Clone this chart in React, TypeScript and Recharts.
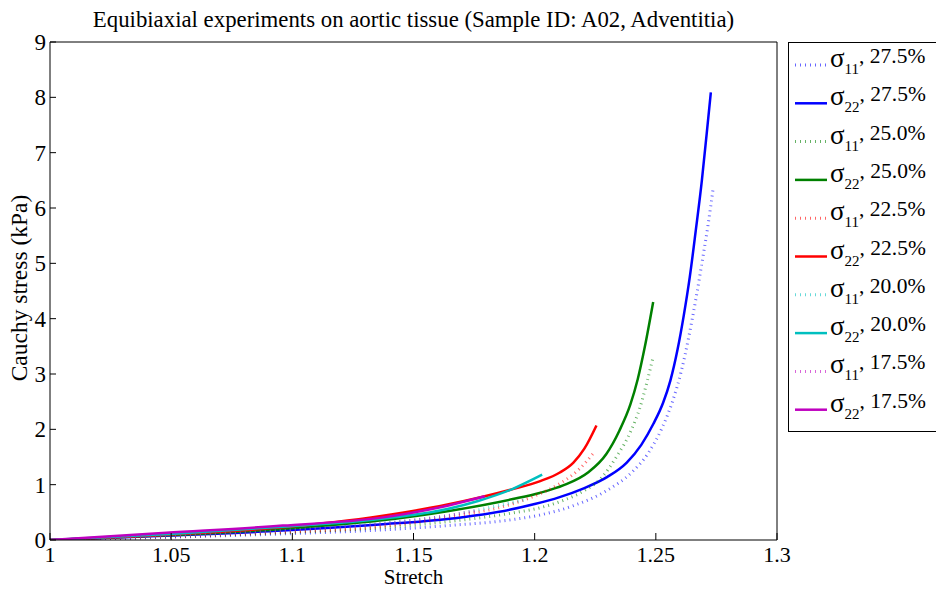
import React from 'react';
import { LineChart, Line, XAxis, YAxis, Legend, Label } from 'recharts';

const FONT = '"Liberation Serif", "Times New Roman", serif';

// axis ticks
const stretchTicks = [1, 1.05, 1.1, 1.15, 1.2, 1.25, 1.3];
const stressTicks = [0, 1, 2, 3, 4, 5, 6, 7, 8, 9];

// [stretch, Cauchy stress (kPa)]
const s11_275 = [[1, 0], [1.05, 0.05], [1.096, 0.11], [1.136, 0.18], [1.164, 0.26], [1.191, 0.37], [1.202, 0.45], [1.216, 0.62], [1.23, 0.9], [1.24, 1.22], [1.247, 1.58], [1.2525, 2.02], [1.257, 2.52], [1.2605, 3.05], [1.2635, 3.65], [1.2665, 4.35], [1.269, 5.0], [1.2715, 5.68], [1.2737, 6.37]];
const s22_275 = [[1, 0], [1.05, 0.08], [1.096, 0.17], [1.136, 0.28], [1.164, 0.38], [1.19, 0.55], [1.2, 0.65], [1.21, 0.77], [1.22, 0.93], [1.23, 1.14], [1.238, 1.4], [1.244, 1.72], [1.249, 2.1], [1.253, 2.48], [1.256, 2.88], [1.259, 3.45], [1.2615, 4.05], [1.264, 4.75], [1.2665, 5.6], [1.269, 6.5], [1.271, 7.35], [1.2727, 8.09]];
const s11_250 = [[1, 0], [1.05, 0.06], [1.096, 0.13], [1.136, 0.22], [1.164, 0.33], [1.191, 0.49], [1.202, 0.58], [1.212, 0.72], [1.22, 0.88], [1.2275, 1.12], [1.234, 1.52], [1.2395, 1.95], [1.2435, 2.4], [1.2465, 2.88], [1.2489, 3.31]];
const s22_250 = [[1, 0], [1.05, 0.09], [1.096, 0.2], [1.136, 0.35], [1.164, 0.52], [1.191, 0.74], [1.202, 0.85], [1.212, 0.99], [1.222, 1.22], [1.2295, 1.55], [1.235, 1.98], [1.2395, 2.45], [1.2425, 2.9], [1.2455, 3.5], [1.2489, 4.3]];
const s11_225 = [[1, 0], [1.05, 0.06], [1.096, 0.14], [1.136, 0.24], [1.164, 0.41], [1.191, 0.655], [1.2021, 0.835], [1.2104, 1.02], [1.2186, 1.29], [1.2241, 1.56]];
const s22_225 = [[1, 0], [1.05, 0.1], [1.096, 0.23], [1.136, 0.43], [1.164, 0.64], [1.191, 0.92], [1.202, 1.06], [1.2104, 1.22], [1.216, 1.4], [1.2205, 1.65], [1.2255, 2.07]];
const s11_200 = [[1, 0], [1.05, 0.07], [1.096, 0.17], [1.136, 0.3], [1.164, 0.44], [1.185, 0.62], [1.197, 0.74]];
const s22_200 = [[1, 0], [1.05, 0.11], [1.096, 0.24], [1.136, 0.38], [1.164, 0.56], [1.177, 0.71], [1.191, 0.925], [1.2031, 1.18]];
const s11_175 = [[1, 0], [1.05, 0.07], [1.096, 0.17], [1.136, 0.29], [1.164, 0.44], [1.176, 0.53]];
const s22_175 = [[1, 0], [1.048, 0.13], [1.096, 0.26], [1.136, 0.4], [1.164, 0.62], [1.1794, 0.79]];

const series = [
  { id: 's11_275', sub: '11', pct: '27.5%', color: '#0000ff', dotted: true, pts: s11_275 },
  { id: 's22_275', sub: '22', pct: '27.5%', color: '#0000ff', dotted: false, pts: s22_275 },
  { id: 's11_250', sub: '11', pct: '25.0%', color: '#008000', dotted: true, pts: s11_250 },
  { id: 's22_250', sub: '22', pct: '25.0%', color: '#008000', dotted: false, pts: s22_250 },
  { id: 's11_225', sub: '11', pct: '22.5%', color: '#ff0000', dotted: true, pts: s11_225 },
  { id: 's22_225', sub: '22', pct: '22.5%', color: '#ff0000', dotted: false, pts: s22_225 },
  { id: 's11_200', sub: '11', pct: '20.0%', color: '#00bfbf', dotted: true, pts: s11_200 },
  { id: 's22_200', sub: '22', pct: '20.0%', color: '#00bfbf', dotted: false, pts: s22_200 },
  { id: 's11_175', sub: '11', pct: '17.5%', color: '#bf00bf', dotted: true, pts: s11_175 },
  { id: 's22_175', sub: '22', pct: '17.5%', color: '#bf00bf', dotted: false, pts: s22_175 },
];

const BottomTick = (props: any) => {
  const { x, y, payload } = props;
  return (
    <g>
      <line x1={x} x2={x} y1={y - 6} y2={y - 13} stroke="#000" />
      <text x={x} y={y} dy="0.71em" textAnchor="middle" fontSize={22} fontFamily={FONT} fill="#000">{payload.value}</text>
    </g>
  );
};

const LeftTick = (props: any) => {
  const { x, y, payload } = props;
  return (
    <g>
      <line x1={x + 4} x2={x + 10} y1={y} y2={y} stroke="#000" />
      <text x={x} y={y} dy="0.35em" textAnchor="end" fontSize={23} fontFamily={FONT} fill="#000">{payload.value}</text>
    </g>
  );
};

const YTitle = (props: any) => {
  const { viewBox } = props;
  const cx = viewBox.x - 22;
  const cy = viewBox.y + viewBox.height / 2 - 3;
  return (
    <text x={cx} y={cy} transform={`rotate(-90, ${cx}, ${cy})`} textAnchor="middle" fontSize={23.5} fontFamily={FONT} fill="#000">
      Cauchy stress (kPa)
    </text>
  );
};

const LegendBox = () => (
  <div style={{ border: '1px solid #000', background: '#fff', width: 160, height: 388 }}>
    <svg width={160} height={388} style={{ overflow: 'visible' }}>
      {series.map((s, i) => {
        const cy = 22 + i * 38.3;
        return (
          <g key={s.id}>
            <line x1={6} x2={38} y1={cy} y2={cy} stroke={s.color}
              strokeWidth={s.dotted ? 3 : 2.5} strokeDasharray={s.dotted ? '1 4' : undefined}
              strokeOpacity={s.dotted ? 0.6 : 1} />
            <text x={41} y={cy - 2} fill="#000" fontFamily={FONT}>
              <tspan fontSize={27} dy={4}>σ</tspan>
              <tspan fontSize={15} dy={7}>{s.sub}</tspan>
              <tspan fontSize={21.5} dy={-11}>, {s.pct}</tspan>
            </text>
          </g>
        );
      })}
    </svg>
  </div>
);

export default function App() {
  return (
    <div style={{ position: 'absolute', left: 0, top: 0, width: 936, height: 589, overflow: 'hidden', background: '#fff', fontFamily: FONT }}>
      <LineChart width={936} height={589} margin={{ top: 42, right: 159, bottom: 48, left: 49 }}>
        <XAxis dataKey="x" type="number" domain={[1, 1.3]} ticks={stretchTicks} height={1}
          axisLine={{ stroke: '#000' }} tickLine={false} tickSize={0} tickMargin={6} tick={BottomTick}
          allowDataOverflow>
          <Label value="Stretch" position="bottom" offset={28} fontSize={21} fontFamily={FONT} fill="#000" />
        </XAxis>
        <XAxis xAxisId="top" orientation="top" type="number" domain={[1, 1.3]} ticks={stretchTicks} height={1}
          mirror tick={false} tickSize={7} axisLine={{ stroke: '#000' }} tickLine={{ stroke: '#000' }} allowDataOverflow>
          <Label value="Equibiaxial experiments on aortic tissue (Sample ID: A02, Adventitia)" position="top" offset={15} fontSize={22.8} fontFamily={FONT} fill="#000" />
        </XAxis>
        <YAxis type="number" domain={[0, 9]} ticks={stressTicks} width={1}
          axisLine={{ stroke: '#000' }} tickLine={false} tickSize={0} tickMargin={4} tick={LeftTick}
          allowDataOverflow label={<YTitle />} />
        <YAxis yAxisId="right" orientation="right" type="number" domain={[0, 9]} ticks={stressTicks} width={1}
          mirror tick={false} tickSize={6} axisLine={{ stroke: '#000' }} tickLine={{ stroke: '#000' }} allowDataOverflow />
        <Legend layout="vertical" align="center" verticalAlign="middle"
          wrapperStyle={{ left: 788, top: 42, width: 162 }} content={() => <LegendBox />} />
        {series.map(s => (
          <Line
            key={s.id}
            data={s.pts.map(([x, y]) => ({ x, y }))}
            dataKey="y"
            type="monotone"
            stroke={s.color}
            strokeWidth={s.dotted ? 3 : 2.5}
            strokeDasharray={s.dotted ? '1 4' : undefined}
            strokeOpacity={s.dotted ? 0.6 : 1}
            dot={false}
            activeDot={false}
            isAnimationActive={false}
            legendType="line"
          />
        ))}
      </LineChart>
    </div>
  );
}
